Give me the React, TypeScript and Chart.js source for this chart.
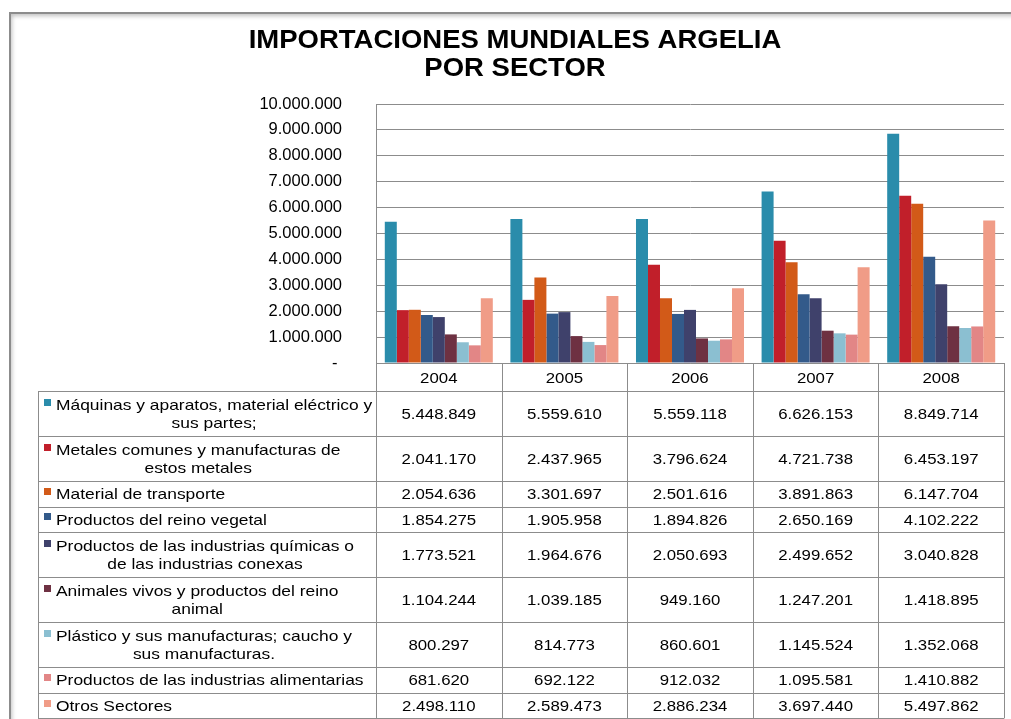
import React, { useEffect, useRef } from "react";
import { Chart, registerables } from "chart.js";

Chart.register(...registerables);

const TITLE = ["IMPORTACIONES MUNDIALES ARGELIA", "POR SECTOR"];
const YEARS = ["2004", "2005", "2006", "2007", "2008"];

const SECTOR_LABELS: string[][] = [
  ["Máquinas y aparatos, material eléctrico y", "sus partes;"],
  ["Metales comunes y manufacturas de", "estos metales"],
  ["Material de transporte"],
  ["Productos del reino vegetal"],
  ["Productos de las industrias químicas o", "de las industrias conexas"],
  ["Animales vivos y productos del reino", "animal"],
  ["Plástico y sus manufacturas; caucho y", "sus manufacturas."],
  ["Productos de las industrias alimentarias"],
  ["Otros Sectores"],
];

const MAQUINAS = [5448849, 5559610, 5559118, 6626153, 8849714];
const METALES = [2041170, 2437965, 3796624, 4721738, 6453197];
const TRANSPORTE = [2054636, 3301697, 2501616, 3891863, 6147704];
const VEGETAL = [1854275, 1905958, 1894826, 2650169, 4102222];
const QUIMICAS = [1773521, 1964676, 2050693, 2499652, 3040828];
const ANIMALES = [1104244, 1039185, 949160, 1247201, 1418895];
const PLASTICO = [800297, 814773, 860601, 1145524, 1352068];
const ALIMENTARIAS = [681620, 692122, 912032, 1095581, 1410882];
const OTROS = [2498110, 2589473, 2886234, 3697440, 5497862];

const SERIES = [MAQUINAS, METALES, TRANSPORTE, VEGETAL, QUIMICAS, ANIMALES, PLASTICO, ALIMENTARIAS, OTROS];

const COLORS = [
  "#2A8CAB",
  "#C11F2A",
  "#D25A18",
  "#335A8A",
  "#3F416B",
  "#6E3142",
  "#8BBFD1",
  "#E28686",
  "#F09C87",
];

const Y_TICKS_MAX = 10000000;
const Y_STEP = 1000000;

const FONT = '"Liberation Sans", Arial, sans-serif';
const GRID = "#8c8c8c";

function fmt(v: number): string {
  return String(Math.round(v)).replace(/\B(?=(\d{3})+(?!\d))/g, ".");
}

function drawScaled(ctx: CanvasRenderingContext2D, text: string, x: number, y: number, sx: number) {
  ctx.save();
  ctx.translate(x, y);
  ctx.scale(sx, 1);
  ctx.fillText(text, 0, 0);
  ctx.restore();
}

const tablePlugin = {
  id: "titleAndTable",
  afterDraw(chart: any) {
    const ctx: CanvasRenderingContext2D = chart.ctx;
    const xs = chart.scales.x;
    const area = chart.chartArea;
    const SX = 1.12;
    const SXL = 1.16;

    ctx.save();
    // Title
    ctx.fillStyle = "#000";
    ctx.textAlign = "center";
    ctx.textBaseline = "middle";
    ctx.font = `bold 25px ${FONT}`;
    drawScaled(ctx, TITLE[0], 515, 41, 1.1);
    drawScaled(ctx, TITLE[1], 515, 69, 1.1);

    // Table geometry
    const n = YEARS.length;
    const catW = (area.right - area.left) / n;
    const colEdges: number[] = [];
    for (let i = 0; i <= n; i++) colEdges.push(area.left + catW * i);
    const tableLeft = 38;
    const headerTop = area.bottom;
    const headerBottom = headerTop + 28;
    const rowTops: number[] = [headerBottom];
    SECTOR_LABELS.forEach((lines) => {
      const h = lines.length > 1 ? 45 : 25.6;
      rowTops.push(rowTops[rowTops.length - 1] + h);
    });
    const tableBottom = rowTops[rowTops.length - 1];

    // lines
    ctx.strokeStyle = GRID;
    ctx.lineWidth = 1;
    const px = (v: number) => Math.round(v) + 0.5;
    ctx.beginPath();
    for (let i = 0; i <= n; i++) {
      ctx.moveTo(px(colEdges[i]), headerTop);
      ctx.lineTo(px(colEdges[i]), tableBottom);
    }
    ctx.moveTo(px(tableLeft), headerBottom);
    ctx.lineTo(px(tableLeft), tableBottom);
    rowTops.forEach((y) => {
      ctx.moveTo(tableLeft, px(y));
      ctx.lineTo(colEdges[n], px(y));
    });
    ctx.stroke();

    // header years
    ctx.fillStyle = "#000";
    ctx.font = `15px ${FONT}`;
    ctx.textAlign = "center";
    ctx.textBaseline = "middle";
    for (let i = 0; i < n; i++) {
      const cx = xs.getPixelForValue(i);
      drawScaled(ctx, YEARS[i], cx, (headerTop + headerBottom) / 2 + 1.5, SX);
    }

    // rows
    SECTOR_LABELS.forEach((lines, r) => {
      const top = rowTops[r];
      const bottom = rowTops[r + 1];
      const cy = (top + bottom) / 2;
      const lineCenters = lines.length > 1 ? [cy - 9, cy + 9] : [cy];
      // legend key
      ctx.fillStyle = COLORS[r];
      ctx.fillRect(44, Math.round(lineCenters[0] - 6), 7, 7);
      // label
      ctx.fillStyle = "#000";
      ctx.textAlign = "center";
      let maxW = 0;
      lines.forEach((l) => {
        maxW = Math.max(maxW, ctx.measureText(l).width * SXL);
      });
      const lx = 56 + maxW / 2;
      lines.forEach((l, k) => drawScaled(ctx, l, lx, lineCenters[k] + 1, SXL));
      // values
      for (let i = 0; i < n; i++) {
        const cx = xs.getPixelForValue(i);
        drawScaled(ctx, fmt(SERIES[r][i]), cx, cy + 1, SX);
      }
    });
    ctx.restore();
  },
};

export default function App() {
  const canvasRef = useRef<HTMLCanvasElement | null>(null);

  useEffect(() => {
    const canvas = canvasRef.current;
    if (!canvas) return;
    const chart = new Chart(canvas, {
      type: "bar",
      data: {
        labels: YEARS,
        datasets: SERIES.map((data, i) => ({
          label: SECTOR_LABELS[i].join(" "),
          data,
          backgroundColor: COLORS[i],
          borderWidth: 0,
          barPercentage: 1,
          categoryPercentage: 0.86,
        })),
      },
      plugins: [tablePlugin],
      options: {
        animation: false,
        responsive: false,
        devicePixelRatio: 1,
        layout: { padding: { top: 104, right: 7, left: 0, bottom: 0 } },
        plugins: {
          legend: { display: false },
          tooltip: { enabled: false },
          title: { display: false },
        },
        scales: {
          x: {
            grid: { display: false },
            border: { display: true, color: GRID, width: 1 },
            ticks: { display: false },
            afterFit: (scale: any) => {
              scale.height = 356;
            },
          },
          y: {
            min: 0,
            max: Y_TICKS_MAX,
            grid: { color: GRID, lineWidth: 1, drawTicks: false },
            border: { display: true, color: GRID, width: 1 },
            ticks: {
              stepSize: Y_STEP,
              autoSkip: false,
              padding: 34,
              color: "#000",
              font: { family: FONT, size: 16.5 },
              callback: (v: any) => (Number(v) === 0 ? "- " : fmt(Number(v))),
            },
            afterFit: (scale: any) => {
              scale.width = 376;
            },
          },
        },
      } as any,
    });
    return () => chart.destroy();
  }, []);

  return (
    <div style={{ position: "fixed", left: 0, top: 0, width: 1011, height: 719, background: "#fff", overflow: "hidden" }}>
      <div
        style={{
          position: "absolute",
          left: 9,
          top: 12,
          width: 1020,
          height: 740,
          border: "2px solid #8c8c8c",
          boxShadow: "inset 1px 2px 4px rgba(0,0,0,0.25)",
          background: "#fff",
        }}
      />
      <canvas ref={canvasRef} width={1011} height={719} style={{ position: "absolute", left: 0, top: 0 }} />
    </div>
  );
}
